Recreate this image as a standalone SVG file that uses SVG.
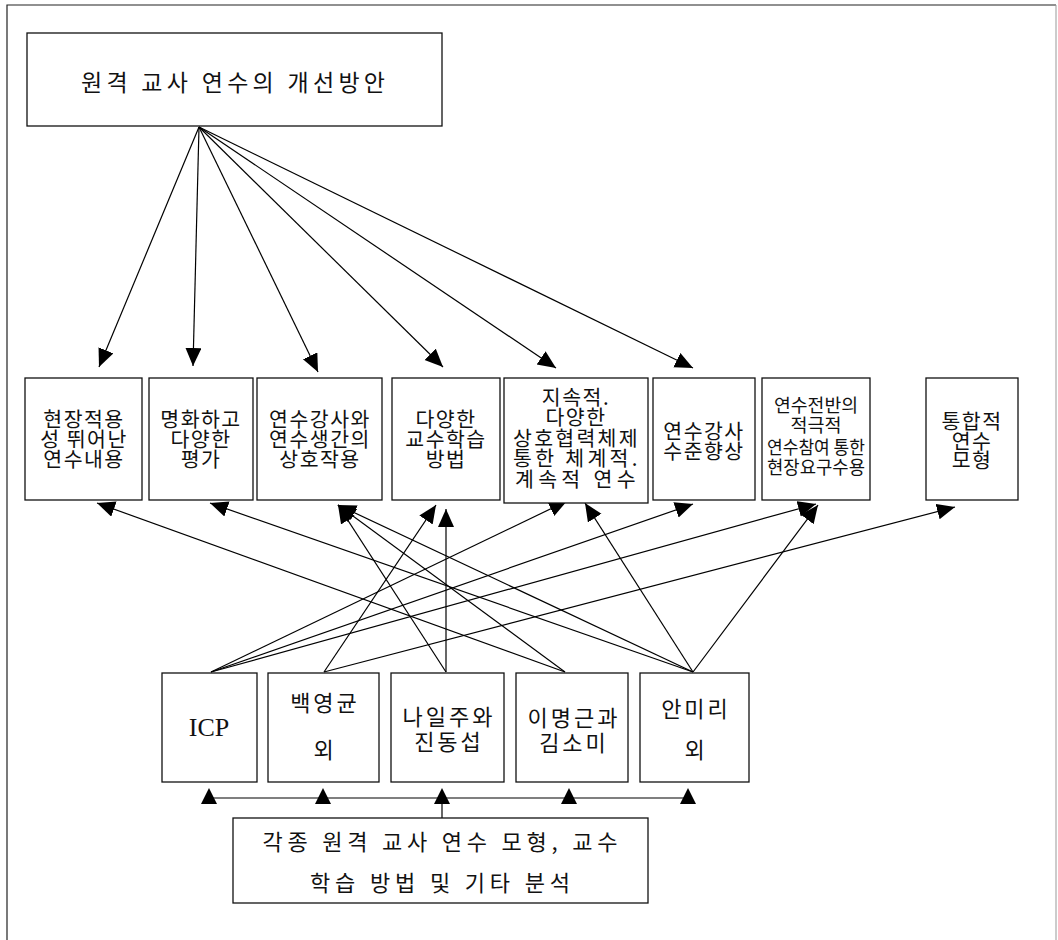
<svg xmlns="http://www.w3.org/2000/svg" width="1058" height="940" viewBox="0 0 1058 940">
<defs>
<marker id="ah" markerUnits="userSpaceOnUse" markerWidth="19" markerHeight="17" refX="18" refY="8" orient="auto">
<path d="M0,0 L18,8 L0,16 z" fill="#000"/>
</marker>
<style>
.bx{fill:#fff;stroke:#111;stroke-width:1.3}
.t{font-family:"Noto Sans CJK KR","Noto Sans",sans-serif;fill:#111;text-anchor:middle;dominant-baseline:central}
.m{font-size:20.5px;letter-spacing:1.5px}
.b{font-size:22px;letter-spacing:3px}
.ln{stroke:#000;stroke-width:1.2;fill:none;marker-end:url(#ah)}
.pl{stroke:#000;stroke-width:1.2;fill:none}
</style>
</defs>
<rect width="1058" height="940" fill="#fff"/>
<path d="M7,940 L7,5 L1056,5" fill="none" stroke="#222" stroke-width="1.2"/>
<path d="M1056,5 L1056,940" fill="none" stroke="#999" stroke-width="1"/>

<g id="connectors">
<line class="ln" x1="199" y1="127" x2="99" y2="367"/>
<line class="ln" x1="199" y1="127" x2="193" y2="366"/>
<line class="ln" x1="199" y1="127" x2="318" y2="372"/>
<line class="ln" x1="199" y1="127" x2="443" y2="367"/>
<line class="ln" x1="199" y1="127" x2="556" y2="368"/>
<line class="ln" x1="199" y1="127" x2="693" y2="368"/>

<line class="ln" x1="211" y1="672" x2="567" y2="501"/>
<line class="ln" x1="211" y1="672" x2="693" y2="504"/>
<line class="ln" x1="211" y1="672" x2="816" y2="504"/>
<line class="ln" x1="324" y1="672" x2="436" y2="505"/>
<line class="ln" x1="324" y1="672" x2="955" y2="507"/>
<line class="ln" x1="446" y1="672" x2="338" y2="505"/>
<line class="ln" x1="446" y1="672" x2="446" y2="509"/>
<line class="ln" x1="565" y1="672" x2="97" y2="503"/>
<line class="ln" x1="565" y1="672" x2="338" y2="505"/>
<line class="ln" x1="693" y1="672" x2="210" y2="503"/>
<line class="ln" x1="693" y1="672" x2="338" y2="505"/>
<line class="ln" x1="693" y1="672" x2="585" y2="503"/>
<line class="ln" x1="693" y1="672" x2="818" y2="505"/>

<line class="pl" x1="209" y1="798" x2="688" y2="798"/>
<line class="pl" x1="442" y1="798" x2="442" y2="818"/>
<path d="M209,788 L217,804 L201,804 z M323,788 L331,804 L315,804 z M442,788 L450,804 L434,804 z M569,788 L577,804 L561,804 z M688,788 L696,804 L680,804 z" fill="#000"/>
</g>

<g id="top-node">
<rect class="bx" x="27" y="33" width="415" height="93"/>
<text class="t" x="233" y="81" font-size="23" textLength="304" lengthAdjust="spacing">원격 교사 연수의 개선방안</text>
</g>

<g id="n1">
<rect class="bx" x="25" y="378" width="117" height="122"/>
<text class="t m"><tspan x="84" y="418">현장적용</tspan><tspan x="84" y="438">성 뛰어난</tspan><tspan x="84" y="458">연수내용</tspan></text>
</g>
<g id="n2">
<rect class="bx" x="149" y="378" width="104" height="122"/>
<text class="t m"><tspan x="201" y="418">명화하고</tspan><tspan x="201" y="438">다양한</tspan><tspan x="201" y="458">평가</tspan></text>
</g>
<g id="n3">
<rect class="bx" x="257" y="378" width="125" height="122"/>
<text class="t m"><tspan x="320" y="418">연수강사와</tspan><tspan x="320" y="438">연수생간의</tspan><tspan x="320" y="458">상호작용</tspan></text>
</g>
<g id="n4">
<rect class="bx" x="392" y="378" width="108" height="122"/>
<text class="t m"><tspan x="446" y="418">다양한</tspan><tspan x="446" y="438">교수학습</tspan><tspan x="446" y="458">방법</tspan></text>
</g>
<g id="n5">
<rect class="bx" x="504" y="378" width="144" height="125"/>
<text class="t m"><tspan x="576" y="396">지속적.</tspan><tspan x="576" y="416">다양한</tspan><tspan x="576" y="437" textLength="126" lengthAdjust="spacing">상호협력체제</tspan><tspan x="576" y="457" textLength="126" lengthAdjust="spacing">통한 체계적.</tspan><tspan x="576" y="478" textLength="122" lengthAdjust="spacing">계속적 연수</tspan></text>
</g>
<g id="n6">
<rect class="bx" x="653" y="378" width="102" height="122"/>
<text class="t m"><tspan x="704" y="430">연수강사</tspan><tspan x="704" y="450">수준향상</tspan></text>
</g>
<g id="n7">
<rect class="bx" x="762" y="378" width="108" height="122"/>
<text class="t" font-size="18.5"><tspan x="816" y="404" textLength="84" lengthAdjust="spacingAndGlyphs">연수전반의</tspan><tspan x="816" y="424">적극적</tspan><tspan x="816" y="446" textLength="98" lengthAdjust="spacingAndGlyphs">연수참여 통한</tspan><tspan x="816" y="466" textLength="98" lengthAdjust="spacingAndGlyphs">현장요구수용</tspan></text>
</g>
<g id="n8">
<rect class="bx" x="926" y="378" width="92" height="122"/>
<text class="t m"><tspan x="972" y="420">통합적</tspan><tspan x="972" y="440">연수</tspan><tspan x="972" y="459">모형</tspan></text>
</g>

<g id="s1">
<rect class="bx" x="162" y="673" width="95" height="109"/>
<text x="209" y="727" font-family="Liberation Serif, serif" font-size="26" fill="#111" text-anchor="middle" dominant-baseline="central">ICP</text>
</g>
<g id="s2">
<rect class="bx" x="268" y="673" width="111" height="109"/>
<text class="t b"><tspan x="325" y="701">백영균</tspan><tspan x="325" y="748">외</tspan></text>
</g>
<g id="s3">
<rect class="bx" x="391" y="673" width="113" height="109"/>
<text class="t b"><tspan x="449" y="715">나일주와</tspan><tspan x="449" y="740">진동섭</tspan></text>
</g>
<g id="s4">
<rect class="bx" x="516" y="673" width="112" height="109"/>
<text class="t b"><tspan x="574" y="716">이명근과</tspan><tspan x="574" y="741">김소미</tspan></text>
</g>
<g id="s5">
<rect class="bx" x="640" y="673" width="109" height="109"/>
<text class="t b"><tspan x="696" y="707">안미리</tspan><tspan x="696" y="748">외</tspan></text>
</g>

<g id="bottom-node">
<rect class="bx" x="233" y="818" width="415" height="85"/>
<text class="t" font-size="22"><tspan x="440" y="840" textLength="355" lengthAdjust="spacing">각종 원격 교사 연수 모형, 교수</tspan><tspan x="440" y="881" textLength="260" lengthAdjust="spacing">학습 방법 및 기타 분석</tspan></text>
</g>
</svg>
